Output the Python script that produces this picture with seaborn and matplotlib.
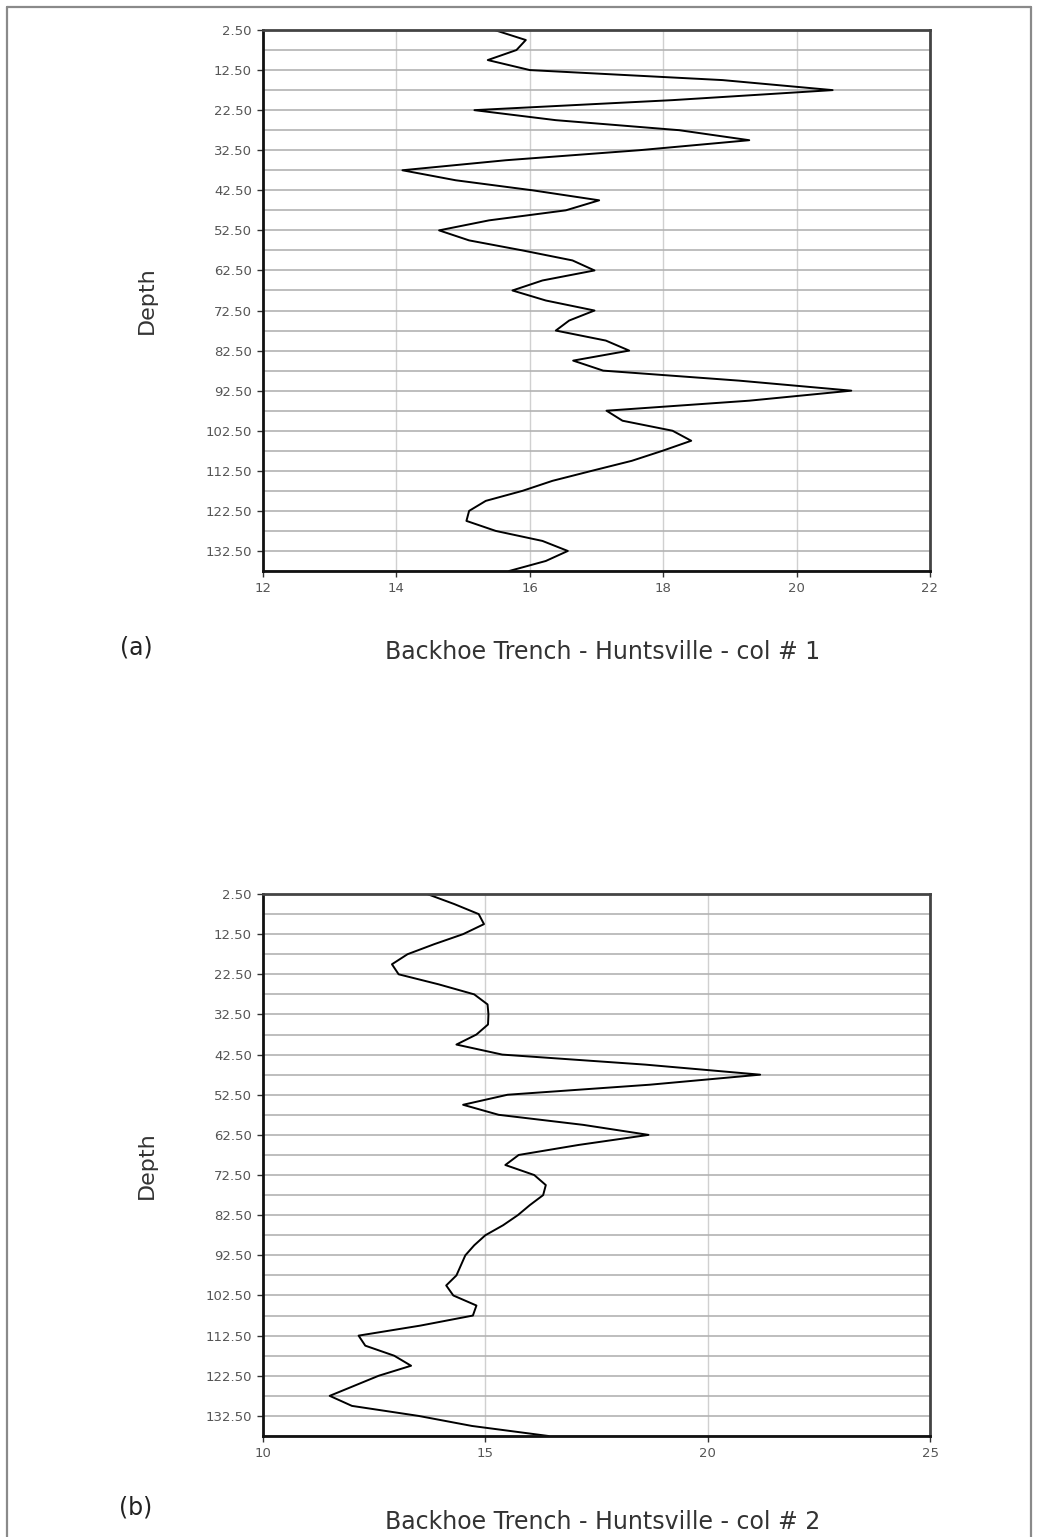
import numpy as np
import seaborn as sns
import matplotlib.pyplot as plt
from matplotlib.lines import Line2D

# depth categories (every 2.5), labels every 10
depth = np.arange(2.5, 137.6, 2.5)
depth_labels = np.arange(2.5, 133, 10)
depth_minor = np.arange(7.5, 138, 10)

# col # 1
col1 = [15.47, 15.94, 15.80, 15.37, 16.00, 18.89, 20.54, 18.14, 15.17, 16.39,
        18.24, 19.29, 17.64, 15.64, 14.09, 14.89, 16.04, 17.04, 16.54, 15.39,
        14.64, 15.09, 15.89, 16.64, 16.97, 16.19, 15.74, 16.24, 16.97, 16.59,
        16.39, 17.14, 17.49, 16.65, 17.10, 19.14, 20.82, 19.29, 17.15, 17.39,
        18.14, 18.42, 17.99, 17.53, 16.93, 16.34, 15.89, 15.34, 15.09, 15.05,
        15.49, 16.19, 16.57, 16.24, 15.69]
# col # 2
col2 = [13.69, 14.30, 14.85, 14.97, 14.50, 13.85, 13.25, 12.90, 13.05, 13.95,
        14.75, 15.05, 15.07, 15.06, 14.80, 14.35, 15.38, 18.60, 21.18, 18.70,
        15.50, 14.50, 15.30, 17.20, 18.67, 17.10, 15.75, 15.45, 16.10, 16.36,
        16.30, 16.00, 15.73, 15.40, 15.00, 14.75, 14.55, 14.45, 14.35, 14.12,
        14.28, 14.80, 14.72, 13.54, 12.15, 12.30, 12.95, 13.33, 12.60, 12.05,
        11.50, 12.00, 13.50, 14.70, 16.42]

xticks1 = [12, 14, 16, 18, 20, 22]
xticks2 = [10, 15, 20, 25]
titles = ['Backhoe Trench - Huntsville - col # 1', 'Backhoe Trench - Huntsville - col # 2']
tags = ['(a)', '(b)']

sns.set_style('white')
plt.rcParams['font.family'] = ['DejaVu Sans']

W, H = 1039, 1537
fig = plt.figure(figsize=(W / 100, H / 100), dpi=100)

# outer frame
for xs, ys in [([7, 7], [7, H]), ([7, 1031], [7, 7]), ([1031, 1031], [7, H])]:
    fig.add_artist(Line2D([x / W for x in xs], [1 - y / H for y in ys],
                          color='#8a8a8a', lw=1.6))

panels = [
    dict(vals=col1, xt=xticks1, top=30, bot=571, title_y=652, tag_y=647),
    dict(vals=col2, xt=xticks2, top=894, bot=1436, title_y=1522, tag_y=1508),
]

for i, p in enumerate(panels):
    ax = fig.add_axes([263 / W, 1 - p['bot'] / H, 667 / W, (p['bot'] - p['top']) / H])
    sns.lineplot(x=p['vals'], y=depth, orient='y', sort=False, estimator=None,
                 color='black', lw=1.4, ax=ax)
    ax.set_xlim(p['xt'][0], p['xt'][-1])
    ax.set_ylim(137.5, 2.5)
    ax.set_xticks(p['xt'])
    ax.set_xticklabels([str(t) for t in p['xt']])
    ax.set_yticks(depth_labels)
    ax.set_yticklabels(['%.2f' % d for d in depth_labels])
    ax.set_yticks(depth_minor, minor=True)
    ax.grid(axis='y', which='both', color='#b3b3b3', lw=1.2)
    ax.grid(axis='x', which='major', color='#d0d0d0', lw=1.0)
    ax.set_axisbelow(True)
    ax.tick_params(axis='both', which='major', length=4, width=1, color='#333333',
                   labelsize=9.5, labelcolor='#555555', pad=4)
    ax.tick_params(axis='y', which='minor', length=0)
    ax.tick_params(left=True, bottom=True)
    for side in ['left', 'bottom']:
        ax.spines[side].set_color('#111111')
        ax.spines[side].set_linewidth(2)
    for side in ['top', 'right']:
        ax.spines[side].set_color('#444444')
        ax.spines[side].set_linewidth(2)
    ax.set_xlabel('')
    ax.set_ylabel('Depth', fontsize=16, color='#333333')
    ax.yaxis.set_label_coords((157 - 263) / 667, 0.5)

    fig.text(136 / W, 1 - p['tag_y'] / H, tags[i], fontsize=17, color='#222222',
             ha='center', va='center')
    fig.text(603 / W, 1 - p['title_y'] / H, titles[i], fontsize=17, color='#333333',
             ha='center', va='center')

fig.savefig('out.png', dpi=100)
